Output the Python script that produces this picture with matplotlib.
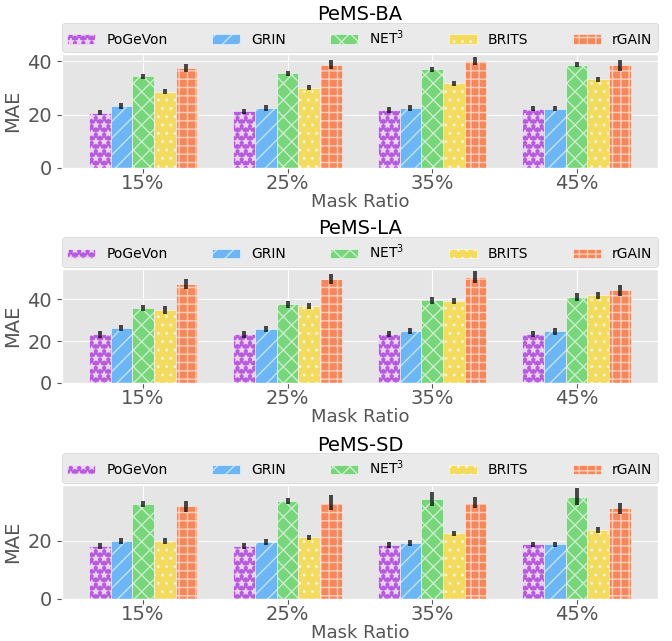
import matplotlib
import numpy as np

matplotlib.use("Agg")
import matplotlib.pyplot as plt  # noqa: E402

# ---- data ----
methods = ["PoGeVon", "GRIN", "NET$^3$", "BRITS", "rGAIN"]
ratios = ["15%", "25%", "35%", "45%"]
datasets = ["PeMS-BA", "PeMS-LA", "PeMS-SD"]
y_tops = [42.6, 54.5, 39.1]

# rows = methods, cols = mask ratios
ba_mae = [[20.8, 21.2, 21.8, 22.3],
          [23.2, 22.5, 22.5, 22.3],
          [34.4, 35.5, 37.0, 38.8],
          [28.7, 30.2, 31.8, 33.3],
          [37.5, 38.8, 40.3, 38.5]]
ba_err = [[1.0, 1.0, 1.0, 1.0],
          [1.0, 1.0, 1.0, 0.9],
          [1.0, 1.0, 1.0, 1.0],
          [1.0, 1.0, 1.0, 1.0],
          [1.5, 1.8, 1.5, 2.0]]

la_mae = [[23.2, 23.2, 23.5, 23.5],
          [26.4, 25.9, 24.8, 24.6],
          [36.0, 37.6, 39.5, 41.1],
          [35.0, 37.0, 39.2, 41.9],
          [47.5, 49.8, 50.7, 44.3]]
la_err = [[1.5, 1.5, 1.5, 1.5],
          [1.5, 1.5, 1.5, 1.5],
          [1.5, 1.5, 1.5, 2.0],
          [2.0, 1.5, 1.5, 1.5],
          [2.5, 2.5, 3.0, 2.5]]

sd_mae = [[18.1, 18.1, 18.4, 18.7],
          [19.9, 19.5, 19.1, 18.7],
          [32.5, 33.7, 34.3, 35.2],
          [19.9, 21.1, 22.5, 23.7],
          [31.8, 33.1, 33.1, 31.1]]
sd_err = [[1.0, 1.0, 1.0, 1.0],
          [1.0, 1.0, 1.0, 1.0],
          [1.0, 1.0, 2.5, 3.0],
          [1.0, 1.0, 1.0, 1.0],
          [2.0, 2.5, 2.0, 2.0]]

COLORS = ["#b65bdc", "#6cb6f6", "#78d67a", "#f3db5f", "#f7875a"]
HATCHES = ["**", "//", "xx", "..", "++"]
WIDTH = 0.15


def draw_panel(ax, title, mae, err, top):
    x = np.arange(len(ratios))
    for i, (name, vals, ee) in enumerate(zip(methods, mae, err)):
        pos = x + (i - 2) * WIDTH
        ax.bar(pos, vals, WIDTH, color=COLORS[i], hatch=HATCHES[i],
               edgecolor=(1, 1, 1, 0.6), linewidth=0.6, label=name)
        ax.errorbar(pos, vals, yerr=ee, fmt="none", ecolor="black",
                    elinewidth=2.8, alpha=0.7, capsize=0)
    ax.set_xticks(x)
    ax.set_xticklabels(ratios)
    ax.tick_params(axis="both", labelsize=14)
    ax.tick_params(axis="x", pad=1)
    ax.set_yticks([0, 20, 40])
    ax.set_ylim(0, top)
    ax.set_xlabel("Mask Ratio", fontsize=13, labelpad=0)
    ax.set_ylabel("MAE", fontsize=14)
    ax.set_title(title, fontsize=14, pad=25)
    ax.legend(loc="lower left", bbox_to_anchor=(0, 1.02, 1, 0.2), mode="expand",
              ncol=5, fontsize=10, borderaxespad=0)


def main():
    plt.style.use("ggplot")
    fig = plt.figure(figsize=(6.72, 6.41), dpi=100)
    bottoms = [0.738, 0.403, 0.066]
    for bottom, title, mae, err, top in zip(bottoms, datasets,
                                            [ba_mae, la_mae, sd_mae],
                                            [ba_err, la_err, sd_err], y_tops):
        ax = fig.add_axes([0.092, bottom, 0.887, 0.177])
        draw_panel(ax, title, mae, err, top)
    fig.savefig("out.png", dpi=100)


if __name__ == "__main__":
    main()
